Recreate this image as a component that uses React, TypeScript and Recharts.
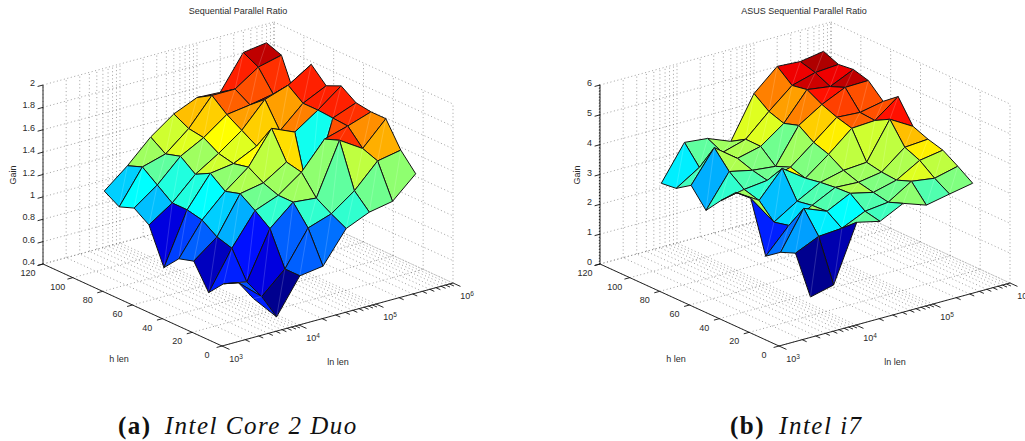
import { Scatter, ScatterChart, XAxis, YAxis } from "recharts";

// ln len grid (rows run along this) and h len grid
const lnLen = [4000, 8000, 16000, 32000, 64000, 128000, 256000, 512000];
const hLen = [10, 20, 30, 40, 50, 60, 70, 80, 90, 100, 110];

// gain, one row per h len
const gainCore2Duo = [
  [0.65, 0.43, 0.74, 0.77, 1.05, 1.14, 1.18, 1.37],
  [0.73, 0.55, 0.74, 1.05, 1.12, 1.27, 1.48, 1.52],
  [0.66, 0.62, 1.04, 1.22, 1.2, 1.66, 1.53, 1.74],
  [0.52, 0.86, 1.14, 1.22, 1.37, 1.61, 1.67, 1.74],
  [0.74, 0.9, 1.23, 1.27, 1.4, 1.0, 1.68, 1.76],
  [0.7, 0.99, 1.19, 1.35, 1.64, 1.55, 1.69, 1.85],
  [0.56, 1.02, 1.29, 1.32, 1.42, 1.5, 1.69, 1.79],
  [0.88, 1.02, 1.22, 1.35, 1.5, 1.72, 1.79, 1.92],
  [0.97, 1.12, 1.32, 1.43, 1.58, 1.61, 1.65, 1.54],
  [0.92, 1.22, 1.28, 1.45, 1.69, 1.69, 1.83, 1.88],
  [1.0, 1.17, 1.37, 1.52, 1.61, 1.6, 1.9, 1.93],
];

const gainI7 = [
  [0.99, 1.18, 3.07, 2.89, 3.28, 3.01, 3.17, 3.32],
  [2.23, 2.58, 2.64, 3.0, 3.09, 3.58, 3.47, 3.66],
  [2.03, 3.29, 2.98, 3.37, 3.19, 3.39, 3.84, 3.97],
  [1.67, 2.49, 2.95, 3.34, 3.3, 3.43, 4.05, 4.11],
  [3.38, 2.37, 2.86, 3.28, 3.47, 3.53, 4.76, 4.31],
  [3.35, 2.87, 3.73, 3.19, 3.78, 4.44, 4.49, 5.08],
  [2.85, 3.01, 3.1, 3.33, 3.95, 4.58, 4.53, 4.69],
  [2.29, 3.38, 3.21, 3.13, 4.29, 4.78, 5.14, 5.16],
  [2.9, 3.95, 3.38, 3.57, 4.13, 5.05, 4.94, 5.3],
  [2.57, 3.06, 3.35, 3.58, 4.3, 4.96, 5.18, 5.24],
  [2.51, 3.67, 3.59, 3.28, 4.67, 5.37, 5.32, 5.45],
];

const hTicks = [0, 20, 40, 60, 80, 100, 120];
const lnDecades = [3, 4, 5, 6];
const gainTicksCore2Duo = [0.4, 0.6, 0.8, 1, 1.2, 1.4, 1.6, 1.8, 2];
const gainTicksI7 = [0, 1, 2, 3, 4, 5, 6];

const HEIGHT = 441;
const FONT = '"Liberation Sans", Arial, sans-serif';

function jetColor(v: number) {
  const idx = Math.max(0, Math.min(63, Math.floor(v * 64)));
  const t = (idx + 1) / 64;
  const c = (a: number) => Math.round(255 * Math.max(0, Math.min(1, a)));
  const r = c(Math.min(4 * t - 1.5, -4 * t + 4.5));
  const g = c(Math.min(4 * t - 0.5, -4 * t + 3.5));
  const b = c(Math.min(4 * t + 0.5, -4 * t + 2.5));
  return `rgb(${r},${g},${b})`;
}

// shapes get cx/cy from the chart scales, the axes run 1 unit = 1px
function CellShape(props: any) {
  const { cx, cy, payload } = props;
  const pts = payload.pts.map((p: any) => [cx + p.x - payload.x, cy + p.y - payload.y]);
  return (
    <g>
      <polygon
        points={pts.map((p: number[]) => p.join(",")).join(" ")}
        fill={payload.color}
        stroke="#111"
        strokeWidth={1}
        strokeLinejoin="round"
      />
      <line
        x1={pts[0][0]}
        y1={pts[0][1]}
        x2={pts[2][0]}
        y2={pts[2][1]}
        stroke="#fff"
        strokeOpacity={0.28}
        strokeWidth={0.6}
      />
    </g>
  );
}

function SegmentShape(props: any) {
  const { cx, cy, payload } = props;
  return (
    <line
      x1={cx}
      y1={cy}
      x2={cx + payload.x2 - payload.x}
      y2={cy + payload.y2 - payload.y}
      stroke={payload.dotted ? "#777" : "#111"}
      strokeWidth={payload.dotted ? 0.7 : 0.9}
      strokeDasharray={payload.dotted ? "1 2.6" : undefined}
    />
  );
}

function TextShape(props: any) {
  const { cx, cy, payload } = props;
  return (
    <text
      x={cx}
      y={cy}
      textAnchor={payload.anchor || "middle"}
      fontFamily={FONT}
      fontSize={9}
      fill="#2a2a2a"
      transform={payload.rotate ? `rotate(${payload.rotate} ${cx} ${cy})` : undefined}
    >
      {payload.label}
      {payload.sup ? (
        <tspan fontSize={6.5} dy={-3.5}>
          {payload.sup}
        </tspan>
      ) : null}
    </text>
  );
}

function Plot({ gain, gainTicks, gainMinorStep, title, titleX, gainLabelX, width, left }: any) {
  const zMin = gainTicks[0];
  const zMax = gainTicks[gainTicks.length - 1];
  const project = (logLen: number, h: number, z: number) => {
    const u = (logLen - 3) / 3;
    const v = h / 120;
    const w = (z - zMin) / (zMax - zMin);
    return { x: 222 + 231 * u - 179 * v, y: 346 - 63 * u - 82 * v - 179 * w };
  };

  const flat = gain.flat();
  const lo = Math.min(...flat);
  const hi = Math.max(...flat);

  // painter's order, far corner first
  const cells: any[] = [];
  for (let j = hLen.length - 2; j >= 0; j--) {
    for (let i = lnLen.length - 2; i >= 0; i--) {
      const node = (a: number, b: number) => project(Math.log10(lnLen[a]), hLen[b], gain[b][a]);
      const first = node(i, j);
      cells.push({
        x: first.x,
        y: first.y,
        pts: [first, node(i + 1, j), node(i + 1, j + 1), node(i, j + 1)],
        color: jetColor((gain[j][i] - lo) / (hi - lo)),
      });
    }
  }

  const segs: any[] = [];
  const seg = (a: any, b: any, dotted: boolean) =>
    segs.push({ x: a.x, y: a.y, x2: b.x, y2: b.y, dotted });

  const lnAll: number[] = [];
  lnDecades.forEach((d) => {
    if (d < 6) [1, 2, 3, 4, 5, 6, 7, 8, 9].forEach((m) => lnAll.push(d + Math.log10(m)));
    else lnAll.push(d);
  });

  // grid on the floor and the two back walls
  lnAll.forEach((l) => {
    seg(project(l, 0, zMin), project(l, 120, zMin), true);
    seg(project(l, 120, zMin), project(l, 120, zMax), true);
  });
  hTicks.forEach((h) => {
    seg(project(3, h, zMin), project(6, h, zMin), true);
    seg(project(6, h, zMin), project(6, h, zMax), true);
  });
  gainTicks.forEach((z: number) => {
    seg(project(3, 120, z), project(6, 120, z), true);
    seg(project(6, 120, z), project(6, 0, z), true);
  });

  // solid axes and tick marks
  seg(project(3, 0, zMin), project(6, 0, zMin), false);
  seg(project(3, 0, zMin), project(3, 120, zMin), false);
  seg(project(3, 120, zMin), project(3, 120, zMax), false);
  lnAll.forEach((l) => {
    const long = Number.isInteger(l);
    seg(project(l, 0, zMin), project(l, long ? -5 : -3, zMin), false);
  });
  hTicks.forEach((h) => seg(project(3, h, zMin), project(2.93, h, zMin), false));
  gainTicks.forEach((z: number) => seg(project(3, 120, z), project(2.93, 120, z), false));
  // the i7 axis is crowded with minor ticks, it reads as a thick grey bar
  if (gainMinorStep) {
    for (let n = 0; n * gainMinorStep <= zMax - zMin; n++) {
      const z = zMin + n * gainMinorStep;
      seg(project(3, 120, z), project(2.985, 120, z), false);
    }
  }

  const texts: any[] = [];
  const tip = (p: any, dx: number, dy: number) => ({ x: p.x + dx, y: p.y + dy });
  gainTicks.forEach((z: number) =>
    texts.push({ ...tip(project(3, 120, z), -8, 1), label: String(z), anchor: "end" })
  );
  hTicks.forEach((h) => texts.push({ ...tip(project(3, h, zMin), -15, 12), label: String(h) }));
  lnDecades.forEach((d) =>
    texts.push({ ...tip(project(d, 0, zMin), 14, 16), label: "10", sup: String(d) })
  );
  texts.push({ x: 119, y: 362, label: "h len" });
  texts.push({ x: 338, y: 365, label: "ln len" });
  texts.push({ x: gainLabelX, y: 175, label: "Gain", rotate: -90 });
  texts.push({ x: titleX, y: 14, label: title });

  return (
    <div style={{ position: "absolute", left, top: 0 }}>
      <ScatterChart width={width} height={HEIGHT} margin={{ top: 0, right: 0, bottom: 0, left: 0 }}>
        <XAxis type="number" dataKey="x" domain={[0, width]} hide />
        <YAxis type="number" dataKey="y" domain={[0, HEIGHT]} reversed hide />
        <Scatter data={segs} shape={SegmentShape} isAnimationActive={false} />
        <Scatter data={cells} shape={CellShape} isAnimationActive={false} />
        <Scatter data={texts} shape={TextShape} isAnimationActive={false} />
      </ScatterChart>
    </div>
  );
}

function Caption({ left, tag, name, gap }: any) {
  return (
    <div
      style={{
        position: "absolute",
        left,
        top: 412,
        fontFamily: '"Liberation Serif", serif',
        fontSize: 25,
        letterSpacing: 1.5,
        whiteSpace: "nowrap",
        color: "#111",
      }}
    >
      <b>{tag}</b>
      <i style={{ marginLeft: gap }}>{name}</i>
    </div>
  );
}

export default function App() {
  return (
    <div
      style={{
        position: "fixed",
        left: 0,
        top: 0,
        width: 1025,
        height: HEIGHT,
        overflow: "hidden",
        background: "#fff",
      }}
    >
      <Plot
        gain={gainCore2Duo}
        gainTicks={gainTicksCore2Duo}
        title="Sequential Parallel Ratio"
        titleX={238}
        gainLabelX={16}
        width={557}
        left={0}
      />
      <Plot
        gain={gainI7}
        gainTicks={gainTicksI7}
        gainMinorStep={0.1}
        title="ASUS Sequential Parallel Ratio"
        titleX={247}
        gainLabelX={23}
        width={468}
        left={557}
      />
      <Caption left={118} tag="(a)" name="Intel Core 2 Duo" gap={13} />
      <Caption left={730} tag="(b)" name="Intel i7" gap={14} />
    </div>
  );
}
